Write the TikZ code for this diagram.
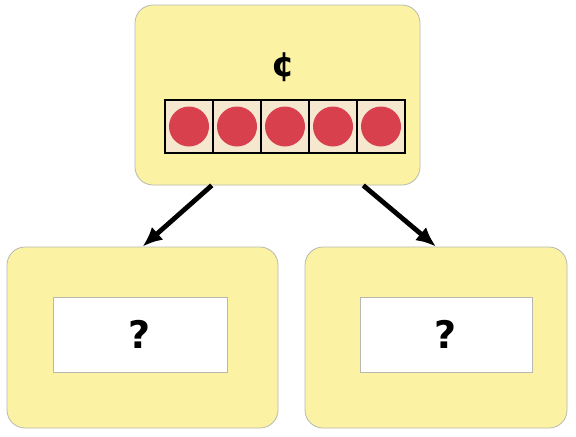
\documentclass[tikz,border=0pt]{standalone}
\usepackage{fontspec}
\setsansfont{DejaVu Sans}
\definecolor{notegelb}{HTML}{FBF2A4}
\definecolor{randgrau}{HTML}{B8B8B0}
\definecolor{muenzrot}{HTML}{D8404E}
\definecolor{feldcreme}{HTML}{F6E7CF}
\usetikzlibrary{arrows.meta, positioning, calc}

\begin{document}
\begin{tikzpicture}[x=0.5pt, y=-0.5pt, every node/.style={font=\sffamily\bfseries\fontsize{19}{22}\selectfont}]
        \tikzset{cardbox/.style={draw=randgrau, fill=notegelb, rounded corners=9pt,
                 inner sep=0pt},
                 answerbox/.style={draw=randgrau, fill=white, inner sep=0pt,
                 minimum width=87pt, minimum height=37.5pt},
                 cellbox/.style={draw=black, line width=1pt, fill=feldcreme,
                 minimum width=24pt, minimum height=26.5pt, inner sep=0pt},
                 coin/.style={circle, fill=muenzrot, minimum size=20pt, inner sep=0pt}}
        \useasboundingbox (0,0) rectangle (576,436);

        \node[cardbox, minimum width=142.5pt, minimum height=90pt] (top) at (277.5, 95) {};
        \node[font=\sffamily\bfseries\fontsize{17}{20}\selectfont] (cent) at (283, 67) {¢};
        \foreach \i in {1,...,5} {
          \node[cellbox] (cell\i) at ({189+48*(\i-1)}, 126.5) {};
          \node[coin] (coin\i) at (cell\i) {};
        }

        \node[cardbox, minimum width=135.5pt, minimum height=90.5pt] (left) at (142.5, 337.5) {};
        \node[answerbox] (leftq) at (140, 334.5) {?};

        \node[cardbox, minimum width=131pt, minimum height=90.5pt] (right) at (436, 337.5) {};
        \node[answerbox, minimum width=86pt] (rightq) at (446, 334.5) {?};

        \draw[-{Latex[length=3.5mm, width=3mm]}, line width=2.4pt]
          ($(top.south west)!0.27!(top.south east)$) -- (left.north);
        \draw[-{Latex[length=3.5mm, width=3mm]}, line width=2.4pt]
          ($(top.south west)!0.8!(top.south east)$) -- (right.north);
      \end{tikzpicture}
\end{document}
